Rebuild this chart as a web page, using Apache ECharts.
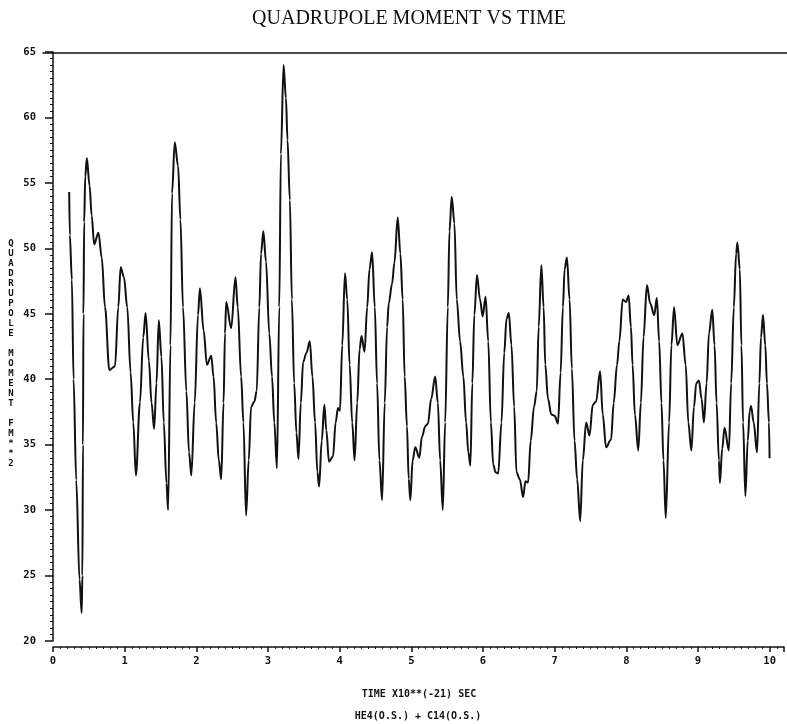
<!DOCTYPE html>
<html>
<head>
<meta charset="utf-8">
<script src="https://cdn.jsdelivr.net/npm/echarts@6/dist/echarts.min.js"></script>
<style>
html,body{margin:0;padding:0;background:#fff;}
#chart{width:787px;height:724px;}
</style>
</head>
<body>
<div id="chart"></div>
<script>
// Time (x10**-21 s) and quadrupole moment (fm**2)
const time = [0.226,0.235,0.263,0.287,0.324,0.37,0.40,0.41,0.418,0.425,0.435,0.45,0.472,0.51,0.54,0.574,0.634,0.68,0.726,0.786,0.865,0.911,0.944,0.99,1.036,1.083,1.12,1.157,1.213,1.259,1.292,1.338,1.375,1.411,1.444,1.476,1.513,1.546,1.583,1.606,1.639,1.661,1.699,1.745,1.778,1.814,1.861,1.898,1.93,1.977,2.023,2.05,2.102,2.148,2.208,2.24,2.277,2.314,2.347,2.38,2.40,2.417,2.486,2.546,2.578,2.625,2.657,2.694,2.731,2.764,2.81,2.842,2.879,2.903,2.935,2.972,3.018,3.056,3.088,3.125,3.157,3.18,3.217,3.25,3.272,3.305,3.333,3.365,3.397,3.425,3.458,3.49,3.536,3.583,3.62,3.657,3.689,3.713,3.75,3.786,3.814,3.851,3.907,3.944,3.976,4.004,4.036,4.074,4.106,4.139,4.175,4.208,4.245,4.278,4.305,4.347,4.384,4.416,4.453,4.49,4.522,4.555,4.592,4.629,4.662,4.685,4.731,4.764,4.81,4.847,4.879,4.907,4.939,4.963,4.986,5.018,5.055,5.111,5.148,5.194,5.231,5.277,5.333,5.37,5.402,5.439,5.472,5.509,5.532,5.564,5.601,5.634,5.68,5.726,5.764,5.796,5.824,5.851,5.879,5.916,5.958,5.995,6.036,6.073,6.11,6.142,6.175,6.212,6.258,6.296,6.328,6.36,6.397,6.435,6.467,6.513,6.56,6.592,6.629,6.666,6.712,6.75,6.777,6.814,6.846,6.869,6.907,6.953,7.0,7.046,7.083,7.115,7.139,7.171,7.208,7.24,7.277,7.314,7.356,7.393,7.439,7.486,7.532,7.578,7.634,7.671,7.717,7.787,7.824,7.87,7.903,7.949,7.995,8.032,8.064,8.087,8.12,8.166,8.203,8.24,8.287,8.333,8.389,8.426,8.458,8.49,8.518,8.55,8.597,8.629,8.666,8.712,8.782,8.828,8.865,8.907,8.944,8.976,9.013,9.05,9.083,9.12,9.153,9.199,9.231,9.259,9.292,9.306,9.338,9.37,9.431,9.463,9.5,9.532,9.55,9.583,9.606,9.629,9.661,9.694,9.722,9.74,9.777,9.824,9.856,9.879,9.907,9.939,9.962,9.99,9.999];
const moment = [54.3,51,47.6,40.0,32.3,24.7,22.15,25,35,45,52,55.5,56.9,54.8,52.5,50.3,51.2,49.3,45.5,40.7,41.0,45.5,48.55,47.8,45.5,40.5,36.7,32.65,38.2,43.2,45.05,41.4,38.2,36.2,39.7,44.5,41.7,36.7,32.07,30.0,42.6,54.2,58.1,56.3,52.2,45.5,39.1,34.4,32.65,38.2,44.9,46.95,43.7,41.1,41.8,40.2,36.7,33.8,32.36,38.2,43.5,45.9,43.9,47.8,45.5,40.2,36.7,29.6,33.8,37.9,38.3,39.1,45.5,49.6,51.3,49.0,43.5,40.2,36.7,33.2,45.5,57.2,64.0,61.5,58.3,53.7,46.1,39.7,35.9,33.9,38.2,41.3,42.0,42.9,40.2,36.7,32.9,31.8,35.3,38.05,36.1,33.7,34.1,36.7,37.8,37.6,42.6,48.1,46.1,41.1,36.7,33.8,38.2,42.3,43.3,42.1,45.5,48.4,49.7,45.5,39.7,33.8,30.75,38.2,44.0,45.8,47.3,48.9,52.35,49.6,46.1,40.2,36.4,32.4,30.75,33.8,34.8,34.0,35.6,36.4,36.6,38.5,40.2,38.2,33.8,30.0,36.7,45.5,51.3,53.95,51.9,46.1,42.9,40.2,36.7,34.4,33.4,39.7,44.9,47.97,46.1,44.8,46.3,42.9,36.7,33.5,32.9,32.8,36.7,42.0,44.6,45.05,42.6,37.9,32.9,32.36,31.0,32.2,32.1,35.3,37.9,39.1,44.0,48.7,45.5,41.1,38.5,37.3,37.2,36.6,40.5,45.5,48.4,49.3,46.1,40.8,35.3,32.36,29.15,33.8,36.7,35.7,38.05,38.3,40.6,37.3,34.8,35.4,38.2,41.1,42.9,46.1,45.9,46.4,44.0,41.1,37.3,34.55,38.2,43.2,47.2,45.8,44.9,46.2,42.9,38.2,33.8,29.4,36.7,42.6,45.5,42.6,43.5,41.1,36.7,34.55,37.9,39.7,39.9,38.5,36.7,39.7,43.5,45.3,42.6,38.2,33.8,32.07,34.7,36.3,34.55,39.7,45.5,49.6,50.45,48.4,42.6,36.7,31.05,35.3,37.6,37.95,36.7,34.4,39.7,43.2,44.9,42.6,39.7,36.7,33.96];

const titleText = 'QUADRUPOLE MOMENT VS TIME';
const yName = 'QUADRUPOLE MOMENT FM**2';
const xName = 'TIME X10**(-21) SEC';
const caseText = 'HE4(O.S.) + C14(O.S.)';
const xTickLabels = ['0','1','2','3','4','5','6','7','8','9','10'];
const yTickLabels = ['20','25','30','35','40','45','50','55','60','65'];

const seriesData = time.map((t, i) => [t, moment[i]]);
const mono = '"DejaVu Sans Mono", monospace';
const ink = '#111';

const chart = echarts.init(document.getElementById('chart'), null, {renderer: 'canvas'});
chart.setOption({
  backgroundColor: '#fff',
  animation: false,
  title: [
    {text: titleText, left: 404, top: 4, textAlign: 'center',
     textStyle: {fontFamily: '"Liberation Serif", serif', fontSize: 20, fontWeight: 'normal', color: ink}},
    {text: yName.split('').join('\n'), left: 6, top: 234, textAlign: 'center',
     textStyle: {fontFamily: mono, fontSize: 9, fontWeight: 'bold', color: ink, lineHeight: 10}},
    {text: xName, left: 414, top: 684, textAlign: 'center',
     textStyle: {fontFamily: mono, fontSize: 10, fontWeight: 'bold', color: ink}},
    {text: caseText, left: 413, top: 706, textAlign: 'center',
     textStyle: {fontFamily: mono, fontSize: 10, fontWeight: 'bold', color: ink}}
  ],
  grid: [
    {left: 53, right: 0, top: 52, bottom: 83, containLabel: false},
    {left: 43, right: 0, top: 52, height: 1}
  ],
  xAxis: [
    {type: 'value', gridIndex: 0, min: 0, max: 10.2, interval: 1, offset: 6,
     axisLine: {show: true, lineStyle: {color: ink, width: 1.5}},
     axisTick: {show: true, length: 5, lineStyle: {color: ink, width: 1.5}},
     minorTick: {show: true, splitNumber: 10, length: 2, lineStyle: {color: ink, width: 1}},
     splitLine: {show: false},
     axisLabel: {margin: 9, fontFamily: mono, fontSize: 10.5, fontWeight: 'bold', color: ink,
       formatter: v => (Math.abs(v - Math.round(v)) < 1e-6 && Math.round(v) <= 10) ? xTickLabels[Math.round(v)] : ''}},
    {type: 'value', gridIndex: 1, position: 'top', min: 0, max: 1,
     axisLine: {show: true, lineStyle: {color: ink, width: 1.5}},
     axisTick: {show: false}, axisLabel: {show: false}, splitLine: {show: false}}
  ],
  yAxis: [
    {type: 'value', gridIndex: 0, min: 20, max: 65, interval: 5, offset: 7,
     axisLine: {show: true, lineStyle: {color: ink, width: 1.5}},
     axisTick: {show: true, length: 8, lineStyle: {color: ink, width: 1.5}},
     minorTick: {show: true, splitNumber: 10, length: 3, lineStyle: {color: ink, width: 1}},
     splitLine: {show: false},
     axisLabel: {margin: 10, fontFamily: mono, fontSize: 10.5, fontWeight: 'bold', color: ink,
       formatter: v => yTickLabels[Math.round((v - 20) / 5)] || ''}},
    {type: 'value', gridIndex: 1, show: false, min: 0, max: 1}
  ],
  series: [{
    type: 'line', xAxisIndex: 0, yAxisIndex: 0, data: seriesData,
    showSymbol: false, smooth: 0.35, smoothMonotone: 'x',
    lineStyle: {color: ink, width: 2}
  }]
});
</script>
</body>
</html>
